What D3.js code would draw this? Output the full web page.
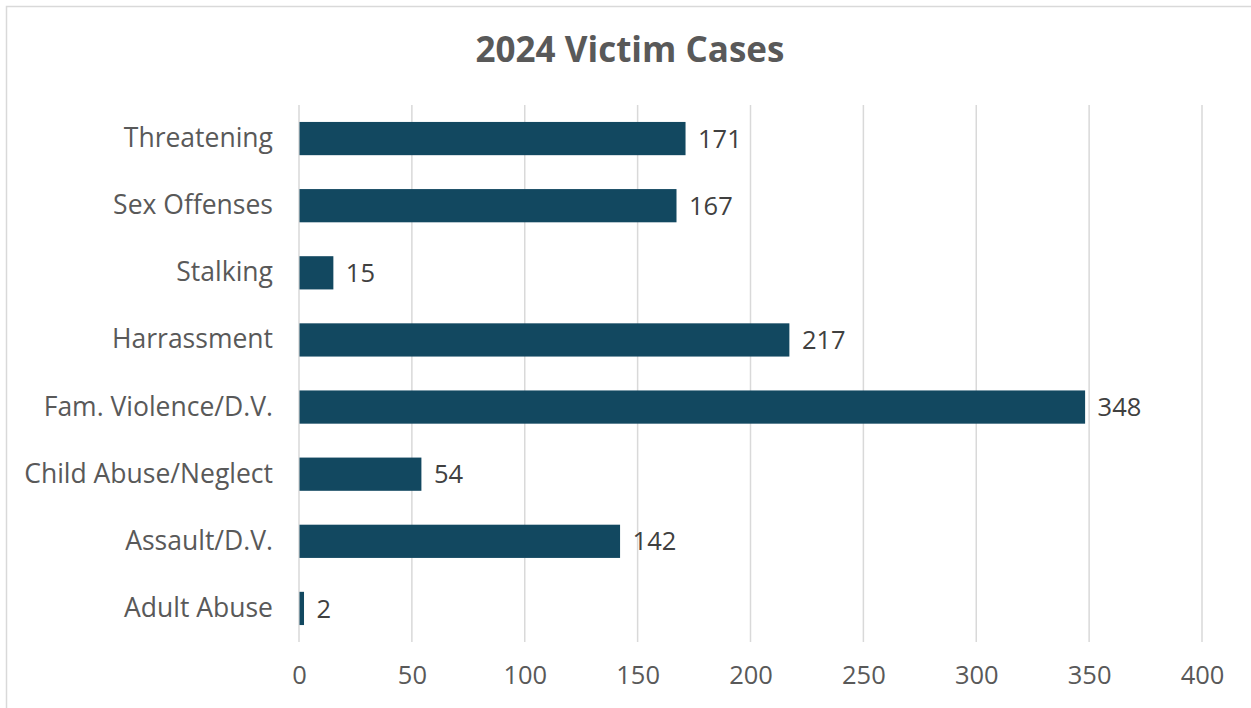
<!DOCTYPE html>
<html><head><meta charset="utf-8">
<script src="https://cdn.jsdelivr.net/npm/d3@7"></script>
<style>html,body{margin:0;padding:0;background:#fff;}svg{display:block;}</style>
</head><body>
<svg id="c" width="1251" height="708"></svg>
<script>
const categories = ["Threatening","Sex Offenses","Stalking","Harrassment","Fam. Violence/D.V.","Child Abuse/Neglect","Assault/D.V.","Adult Abuse"];
const values = [171,167,15,217,348,54,142,2];
const xTicks = [0,50,100,150,200,250,300,350,400];
const title = "2024 Victim Cases";

const svg = d3.select("#c");
const W = 1251, H = 708;
const m = {left:299, right:49, top:105, bottom:66};
const font = "'Open Sans', Arial, sans-serif";

svg.append("rect").attr("x",6.5).attr("y",6.5).attr("width",W).attr("height",H)
  .attr("fill","#fff").attr("stroke","#d9d9d9").attr("stroke-width",1.5);

const x = d3.scaleLinear().domain([0,400]).range([m.left, W-m.right]);
const y = d3.scaleBand().domain(categories).range([m.top, H-m.bottom]).paddingInner(0.505).paddingOuter(0.2525);

svg.append("g").selectAll("line").data(xTicks).join("line")
  .attr("x1",d=>x(d)).attr("x2",d=>x(d)).attr("y1",m.top).attr("y2",H-m.bottom)
  .attr("stroke","#d9d9d9").attr("stroke-width",1.5);

svg.append("g").selectAll("rect").data(values).join("rect")
  .attr("x",x(0)+0.5).attr("y",(d,i)=>y(categories[i]))
  .attr("width",d=>x(d)-x(0)).attr("height",y.bandwidth())
  .attr("fill","#124860");

svg.append("g").selectAll("text").data(values).join("text")
  .attr("x",d=>x(d)+13).attr("y",(d,i)=>y(categories[i])+y.bandwidth()/2)
  .attr("dy","0.36em").attr("font-family",font).attr("font-size",25.5)
  .attr("fill","#404040").text(d=>d);

const ya = d3.axisLeft(y).tickSize(0).tickPadding(26);
const yg = svg.append("g").attr("transform",`translate(${m.left},0)`).call(ya);
yg.select(".domain").remove();
yg.selectAll("text").attr("font-family",font).attr("font-size",26.5).attr("fill","#595959");

const xa = d3.axisBottom(x).tickValues(xTicks).tickSize(0).tickPadding(24);
const xg = svg.append("g").attr("transform",`translate(0,${H-m.bottom})`).call(xa);
xg.select(".domain").remove();
xg.selectAll("text").attr("font-family",font).attr("font-size",25.5).attr("fill","#595959");

svg.append("text").attr("x",630).attr("y",62).attr("text-anchor","middle")
  .attr("font-family",font).attr("font-size",35).attr("font-weight","bold")
  .attr("fill","#595959").text(title);
</script>
</body></html>
